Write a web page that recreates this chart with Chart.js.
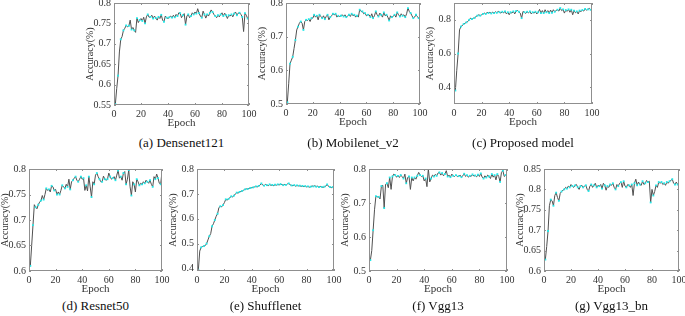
<!DOCTYPE html>
<html>
<head>
<meta charset="utf-8">
<script src="https://cdn.jsdelivr.net/npm/chart.js@4.4.0/dist/chart.umd.min.js"></script>
<style>
body { margin: 0; background: #fff; width: 685px; height: 316px; position: relative; overflow: hidden; font-family: "Liberation Serif", serif; }
.box { position: absolute; }
.cap { position: absolute; font-size: 13px; color: #111; transform: translate(-50%, -50%); white-space: nowrap; }
</style>
</head>
<body>
<script>
// epochs 1..100
var epochs = [];
for (let i = 1; i <= 100; i++) epochs.push(i);
var xTicks = [0, 20, 40, 60, 80, 100];

// accuracy per epoch
var densenet121 = [0.552,0.59,0.622,0.68,0.711,0.718,0.733,0.738,0.745,0.742,0.744,0.758,0.735,0.74,0.733,0.728,0.763,0.752,0.758,0.762,
  0.756,0.765,0.75,0.766,0.772,0.765,0.766,0.77,0.762,0.768,0.763,0.758,0.766,0.762,0.771,0.758,0.754,0.768,0.764,0.762,
  0.765,0.768,0.764,0.77,0.765,0.772,0.768,0.776,0.775,0.764,0.77,0.774,0.747,0.768,0.772,0.764,0.768,0.776,0.772,0.778,
  0.774,0.786,0.775,0.768,0.764,0.78,0.772,0.763,0.772,0.768,0.776,0.783,0.778,0.772,0.768,0.764,0.77,0.766,0.772,0.776,
  0.768,0.775,0.77,0.762,0.77,0.768,0.772,0.766,0.774,0.778,0.77,0.775,0.776,0.772,0.766,0.73,0.775,0.77,0.762,0.765];
var mobilenetV2 = [0.505,0.56,0.62,0.63,0.64,0.665,0.69,0.72,0.73,0.74,0.745,0.74,0.72,0.745,0.75,0.748,0.752,0.745,0.755,0.755,
  0.765,0.758,0.762,0.75,0.765,0.76,0.755,0.762,0.752,0.76,0.765,0.75,0.758,0.762,0.768,0.765,0.768,0.758,0.762,0.76,
  0.762,0.765,0.76,0.765,0.758,0.762,0.765,0.76,0.768,0.762,0.765,0.758,0.762,0.758,0.78,0.775,0.775,0.768,0.77,0.762,
  0.765,0.765,0.758,0.768,0.755,0.762,0.775,0.765,0.76,0.77,0.765,0.758,0.772,0.762,0.765,0.758,0.748,0.762,0.758,0.76,
  0.765,0.758,0.772,0.765,0.76,0.768,0.762,0.765,0.758,0.768,0.785,0.775,0.77,0.762,0.755,0.758,0.765,0.76,0.755,0.758];
var proposed = [0.38,0.5,0.6,0.74,0.76,0.765,0.775,0.78,0.785,0.79,0.8,0.81,0.805,0.81,0.812,0.82,0.825,0.83,0.825,0.83,
  0.835,0.84,0.835,0.845,0.84,0.845,0.838,0.845,0.84,0.848,0.842,0.85,0.845,0.84,0.848,0.842,0.85,0.835,0.845,0.83,
  0.845,0.84,0.85,0.835,0.852,0.855,0.848,0.84,0.81,0.85,0.845,0.838,0.848,0.842,0.85,0.835,0.845,0.84,0.848,0.835,
  0.845,0.862,0.84,0.855,0.84,0.86,0.845,0.855,0.84,0.858,0.842,0.86,0.848,0.855,0.86,0.852,0.87,0.855,0.862,0.84,
  0.858,0.85,0.862,0.845,0.86,0.83,0.855,0.842,0.85,0.835,0.855,0.848,0.858,0.852,0.865,0.858,0.862,0.868,0.86,0.855];
var resnet50 = [0.61,0.65,0.69,0.73,0.725,0.722,0.73,0.735,0.738,0.748,0.74,0.75,0.762,0.758,0.76,0.755,0.767,0.765,0.758,0.76,
  0.75,0.755,0.75,0.758,0.768,0.765,0.762,0.77,0.765,0.78,0.76,0.775,0.778,0.782,0.785,0.778,0.775,0.78,0.785,0.78,
  0.782,0.758,0.768,0.757,0.785,0.765,0.745,0.775,0.77,0.788,0.792,0.785,0.78,0.775,0.775,0.786,0.78,0.778,0.78,0.792,
  0.785,0.78,0.782,0.785,0.778,0.788,0.797,0.782,0.785,0.778,0.792,0.795,0.77,0.78,0.798,0.765,0.748,0.775,0.77,0.755,
  0.78,0.775,0.768,0.772,0.77,0.775,0.772,0.778,0.775,0.772,0.778,0.77,0.765,0.785,0.78,0.79,0.782,0.772,0.77,0.795];
var shufflenet = [0.395,0.47,0.485,0.488,0.49,0.492,0.5,0.515,0.53,0.54,0.57,0.58,0.595,0.61,0.62,0.645,0.65,0.648,0.655,0.665,
  0.678,0.675,0.68,0.685,0.69,0.688,0.693,0.7,0.705,0.703,0.708,0.71,0.712,0.715,0.718,0.72,0.72,0.722,0.724,0.725,
  0.726,0.728,0.73,0.728,0.732,0.735,0.742,0.735,0.733,0.738,0.735,0.733,0.738,0.734,0.736,0.733,0.737,0.735,0.738,0.736,
  0.739,0.737,0.735,0.738,0.736,0.74,0.742,0.736,0.734,0.733,0.735,0.731,0.734,0.732,0.733,0.73,0.732,0.729,0.731,0.728,
  0.73,0.727,0.729,0.732,0.73,0.733,0.729,0.731,0.727,0.73,0.728,0.726,0.729,0.731,0.738,0.73,0.728,0.725,0.727,0.725];
var vgg13 = [0.532,0.56,0.62,0.68,0.72,0.718,0.718,0.712,0.75,0.752,0.685,0.755,0.758,0.745,0.775,0.74,0.778,0.785,0.782,0.776,
  0.78,0.775,0.782,0.778,0.772,0.785,0.758,0.775,0.778,0.74,0.775,0.765,0.775,0.77,0.78,0.79,0.782,0.778,0.78,0.765,
  0.772,0.748,0.8,0.762,0.772,0.782,0.778,0.784,0.78,0.788,0.79,0.782,0.788,0.78,0.785,0.795,0.778,0.782,0.776,0.785,
  0.78,0.778,0.782,0.778,0.779,0.782,0.776,0.78,0.786,0.778,0.782,0.776,0.78,0.778,0.784,0.779,0.781,0.777,0.783,0.778,
  0.787,0.776,0.772,0.78,0.775,0.782,0.778,0.772,0.785,0.776,0.782,0.768,0.785,0.778,0.762,0.79,0.795,0.778,0.782,0.78];
var vgg13bn = [0.628,0.66,0.698,0.76,0.775,0.772,0.76,0.785,0.792,0.78,0.772,0.79,0.795,0.798,0.8,0.805,0.802,0.808,0.805,0.812,
  0.808,0.805,0.81,0.812,0.805,0.8,0.808,0.81,0.805,0.808,0.81,0.8,0.796,0.808,0.812,0.805,0.81,0.815,0.805,0.81,
  0.808,0.812,0.802,0.815,0.81,0.798,0.808,0.805,0.812,0.81,0.815,0.805,0.8,0.812,0.808,0.815,0.818,0.805,0.82,0.808,
  0.805,0.812,0.81,0.805,0.812,0.785,0.815,0.825,0.81,0.818,0.812,0.81,0.82,0.812,0.815,0.822,0.818,0.82,0.768,0.8,
  0.785,0.795,0.81,0.805,0.818,0.815,0.818,0.812,0.815,0.81,0.818,0.815,0.82,0.822,0.825,0.815,0.812,0.818,0.812,0.815];

// y tick labels per panel
var ticksA = [0.55, 0.6, 0.65, 0.7, 0.75, 0.8];
var ticksB = [0.5, 0.6, 0.7, 0.8];
var ticksC = [0.4, 0.6, 0.8];
var ticksD = [0.6, 0.65, 0.7, 0.75, 0.8];
var ticksE = [0.4, 0.5, 0.6, 0.7, 0.8];
var ticksF = [0.5, 0.6, 0.7, 0.8];
var ticksG = [0.6, 0.65, 0.7, 0.75, 0.8, 0.85];

var captions = ["(a) Densenet121", "(b) Mobilenet_v2", "(c) Proposed model", "(d) Resnet50",
  "(e) Shufflenet", "(f) Vgg13", "(g) Vgg13_bn"];

// plot boxes: left, top, right, bottom
var panels = [
  { data: densenet121, ticks: ticksA, ymin: 0.55, ymax: 0.8, box: [114, 3, 249, 105], capY: 143 },
  { data: mobilenetV2, ticks: ticksB, ymin: 0.5, ymax: 0.8, box: [286, 3, 420, 104], capY: 143 },
  { data: proposed, ticks: ticksC, ymin: 0.3, ymax: 0.9, box: [454, 3, 592, 104], capY: 143 },
  { data: resnet50, ticks: ticksD, ymin: 0.6, ymax: 0.8, box: [29, 169, 162, 271], capY: 306 },
  { data: shufflenet, ticks: ticksE, ymin: 0.39, ymax: 0.8, box: [197, 169, 334, 271], capY: 306 },
  { data: vgg13, ticks: ticksF, ymin: 0.5, ymax: 0.8, box: [369, 169, 507, 271], capY: 306 },
  { data: vgg13bn, ticks: ticksG, ymin: 0.6, ymax: 0.85, box: [544, 169, 679, 271], capY: 306 },
];

Chart.defaults.font.family = '"Liberation Serif", serif';
Chart.defaults.color = '#333';

// box round the plot with small inward ticks
var framePlugin = {
  id: 'frame',
  afterDatasetsDraw(chart) {
    const ctx = chart.ctx, a = chart.chartArea, sx = chart.scales.x, sy = chart.scales.y;
    ctx.save();
    ctx.strokeStyle = '#8f8f8f';
    ctx.lineWidth = 1;
    ctx.strokeRect(Math.round(a.left) + 0.5, Math.round(a.top) + 0.5, Math.round(a.right - a.left) - 1, Math.round(a.bottom - a.top) - 1);
    ctx.beginPath();
    sx.ticks.forEach(t => {
      const px = Math.round(sx.getPixelForValue(t.value)) + 0.5;
      ctx.moveTo(px, a.bottom); ctx.lineTo(px, a.bottom - 2);
      ctx.moveTo(px, a.top); ctx.lineTo(px, a.top + 2);
    });
    sy.ticks.forEach(t => {
      const py = Math.round(sy.getPixelForValue(t.value)) + 0.5;
      ctx.moveTo(a.left, py); ctx.lineTo(a.left + 2, py);
      ctx.moveTo(a.right, py); ctx.lineTo(a.right - 2, py);
    });
    ctx.stroke();
    ctx.restore();
  }
};

var yw = 31, padT = 6, padR = 12, xh = 26;

panels.forEach((p, k) => {
  const [l, t, r, b] = p.box;
  const div = document.createElement('div');
  div.className = 'box';
  div.style.left = (l - yw) + 'px';
  div.style.top = (t - padT) + 'px';
  div.style.width = (yw + (r - l) + padR) + 'px';
  div.style.height = (padT + (b - t) + xh) + 'px';
  const cv = document.createElement('canvas');
  div.appendChild(cv);
  document.body.appendChild(div);

  const cap = document.createElement('div');
  cap.className = 'cap';
  cap.style.left = ((l + r) / 2) + 'px';
  cap.style.top = p.capY + 'px';
  cap.textContent = captions[k];
  document.body.appendChild(cap);

  const line = epochs.map((e, i) => ({ x: e, y: p.data[i] }));
  const marks = line.filter((pt, i) => i % 2 === 0);

  new Chart(cv, {
    type: 'line',
    data: {
      datasets: [{
        data: marks,
        showLine: false,
        borderColor: '#22e8e8',
        backgroundColor: '#22e8e8',
        pointStyle: 'rect',
        pointRadius: 1.3,
        pointBorderWidth: 0,
        order: 1,
      }, {
        data: line,
        borderColor: '#505050',
        borderWidth: 1,
        pointRadius: 0,
        tension: 0,
        order: 2,
      }]
    },
    options: {
      responsive: true,
      maintainAspectRatio: false,
      animation: false,
      events: [],
      layout: { padding: { top: padT, right: padR, left: 0, bottom: 0 } },
      plugins: { legend: { display: false }, tooltip: { enabled: false } },
      scales: {
        x: {
          type: 'linear',
          min: 0, max: 100,
          grid: { display: false, drawTicks: false },
          border: { display: false },
          afterBuildTicks: s => { s.ticks = xTicks.map(v => ({ value: v })); },
          afterFit: s => { s.height = xh; s.paddingLeft = 0; s.paddingRight = 0; },
          ticks: { padding: 3, font: { size: 10 }, color: '#333', maxRotation: 0 },
          title: { display: true, text: 'Epoch', font: { size: 11 }, color: '#333', padding: { top: 0, bottom: 1 } },
        },
        y: {
          min: p.ymin, max: p.ymax,
          grid: { display: false, drawTicks: false },
          border: { display: false },
          afterBuildTicks: s => { s.ticks = p.ticks.map(v => ({ value: v })); },
          afterFit: s => { s.width = yw; s.paddingTop = 0; s.paddingBottom = 0; },
          ticks: { padding: 3, font: { size: 10 }, color: '#333', callback: v => String(+v.toFixed(2)) },
          title: { display: true, text: 'Accuracy(%)', font: { size: 10 }, color: '#333', padding: { top: 1, bottom: 0 } },
        }
      }
    },
    plugins: [framePlugin]
  });
});
</script>
</body>
</html>
